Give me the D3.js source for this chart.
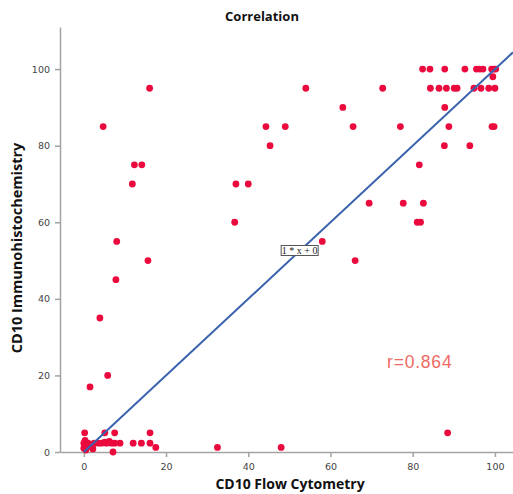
<!DOCTYPE html>
<html lang="en">
  <head>
    <meta charset="UTF-8" />
    <title>Correlation</title>
    <style>
      body { margin: 0; background: #fff; }
      .axis path, .axis line { stroke: #a3a3a3; stroke-width: 1.5; }
      .axis text { font: 9.5px "DejaVu Sans", sans-serif; fill: #444; }
    </style>
  </head>
  <body>
    <svg width="513" height="494"></svg>

    <script src="https://cdn.jsdelivr.net/npm/d3@7"></script>

    <script>
      // CD10 flow cytometry (x) vs immunohistochemistry (y), in %
      const flow = [
        0, 0, 0.3, 0.5, 1, 1, 1.5, 2, 2.2, 2.5, 3.5, 4.3, 5.1, 5.5, 6.2, 6.7, 7.1, 7.5, 8.8, 12, 14, 16.1, 17.5, 32.5, 48,
        0.2, 5.1, 7.5, 16.1, 1.5, 5.8, 3.9, 7.8, 8, 15.6, 11.8, 12.3, 14.1, 4.7, 16,
        36.7, 37, 40, 44.3, 45.3, 49, 54, 58, 63, 65.5, 66, 69.4, 72.7, 77, 77.7, 81.6, 81.1, 81.9, 82.6, 88.5,
        82.4, 84.2, 87.8, 92.7, 95.5, 96.3, 97.1, 99.2, 99.8, 100.2, 99.5,
        84.3, 86.4, 88.2, 90.1, 90.8, 94.9, 96.6, 98.5, 100,
        87.8, 88.8, 99.3, 99.8, 87.7, 93.9
      ];
      const ihc = [
        2.3, 1, 3, 0.5, 2.3, 1.4, 2, 1.4, 0.8, 2.3, 2.3, 2.3, 2.6, 2.3, 2.8, 2.3, 0, 2.3, 2.3, 2.3, 2.3, 2.3, 1.2, 1.2, 1.2,
        5, 5, 5, 5, 17, 20, 35, 45, 55, 50, 70, 75, 75, 85, 95,
        60, 70, 70, 85, 80, 85, 95, 55, 90, 85, 50, 65, 95, 85, 65, 75, 60, 60, 65, 5,
        100, 100, 100, 100, 100, 100, 100, 100, 100, 100, 98,
        95, 95, 95, 95, 95, 95, 95, 95, 95,
        90, 85, 85, 85, 80, 80
      ];
      const xTicks = [0, 20, 40, 60, 80, 100];
      const yTicks = [0, 20, 40, 60, 80, 100];
      // fit line shown by the chart: y = 1 * x + 0
      const fitSlope = 1, fitIntercept = 0;
      const rValue = "r=0.864";

      const svg = d3.select("svg");

      const x = d3.scaleLinear().domain([-5.8, 104.4]).range([60, 513]);
      const y = d3.scaleLinear().domain([0, 111]).range([452, 27]);

      svg.append("g")
        .attr("class", "axis")
        .attr("transform", "translate(0,452)")
        .call(d3.axisBottom(x).tickValues(xTicks).tickSize(5).tickSizeOuter(0).tickPadding(6));

      svg.append("g")
        .attr("class", "axis")
        .attr("transform", "translate(60,0)")
        .call(d3.axisLeft(y).tickValues(yTicks).tickSize(5).tickSizeOuter(0).tickPadding(5));

      // points
      const pts = flow.map((f, i) => ({ f: f, v: ihc[i] }));
      svg.append("g")
        .selectAll("circle")
        .data(pts)
        .enter()
        .append("circle")
        .attr("cx", d => x(d.f))
        .attr("cy", d => y(d.v))
        .attr("r", 3.4)
        .attr("fill", "#ea0a3d");

      // fit line
      const x1 = 0, x2 = x.domain()[1];
      svg.append("line")
        .attr("x1", x(x1))
        .attr("y1", y(fitSlope * x1 + fitIntercept))
        .attr("x2", x(x2))
        .attr("y2", y(fitSlope * x2 + fitIntercept))
        .attr("stroke", "#3b63ad")
        .attr("stroke-width", 2);

      // equation label on the line
      const lx = 52.5;
      const lab = svg.append("g")
        .attr("transform", "translate(" + x(lx) + "," + y(fitSlope * lx + fitIntercept) + ")");
      lab.append("rect")
        .attr("x", -18.5).attr("y", -5.5)
        .attr("width", 37).attr("height", 10)
        .attr("fill", "#fff")
        .attr("stroke", "#555")
        .attr("stroke-width", 1);
      lab.append("text")
        .attr("text-anchor", "middle")
        .attr("y", 3.5)
        .style("font", "10px 'Liberation Serif', serif")
        .attr("fill", "#222")
        .text("1 * x + 0");

      svg.append("text")
        .attr("x", 387)
        .attr("y", 368)
        .style("font", "17.5px 'Liberation Sans', sans-serif")
        .style("letter-spacing", "0.8px")
        .attr("fill", "#ee6a64")
        .text(rValue);

      // titles
      svg.append("text")
        .attr("x", 262).attr("y", 21)
        .attr("text-anchor", "middle")
        .style("font", "bold 13px 'Open Sans', sans-serif")
        .attr("fill", "#111")
        .text("Correlation");

      svg.append("text")
        .attr("x", 290).attr("y", 489)
        .attr("text-anchor", "middle")
        .style("font", "bold 14px 'Open Sans', sans-serif")
        .attr("fill", "#111")
        .text("CD10 Flow Cytometry");

      svg.append("text")
        .attr("transform", "translate(22,248) rotate(-90)")
        .attr("text-anchor", "middle")
        .style("font", "bold 14.5px 'Open Sans', sans-serif")
        .attr("fill", "#111")
        .text("CD10 Immunohistochemistry");
    </script>
  </body>
</html>
